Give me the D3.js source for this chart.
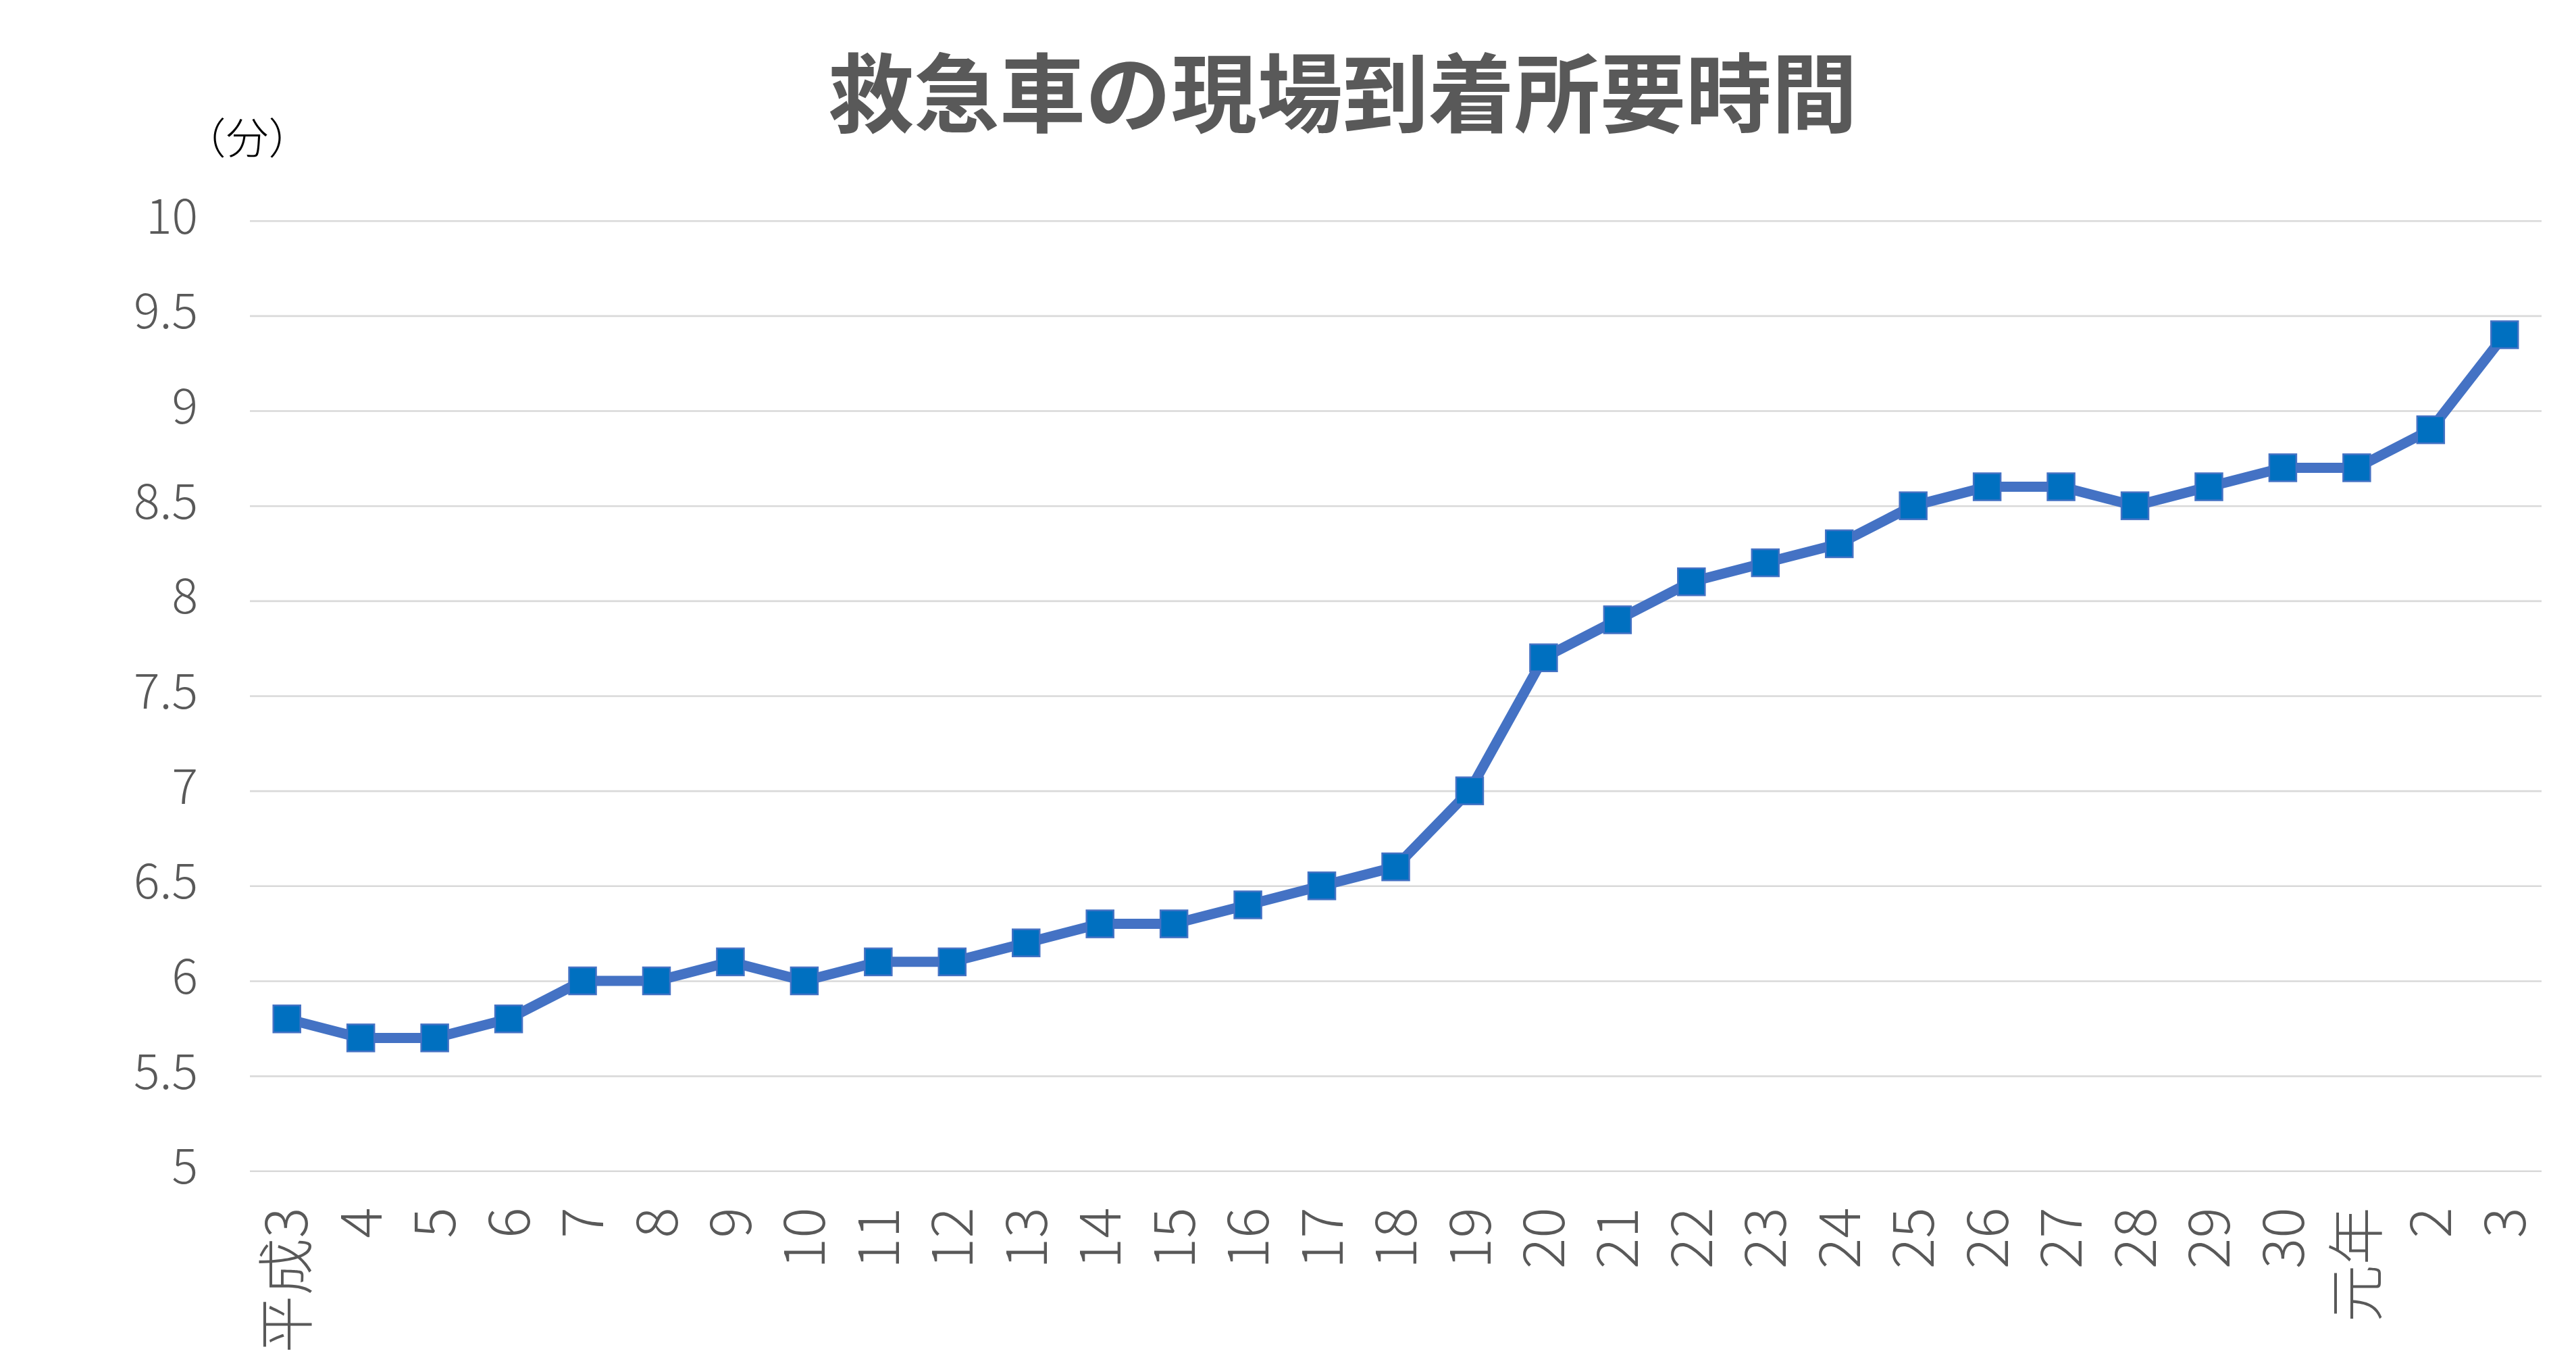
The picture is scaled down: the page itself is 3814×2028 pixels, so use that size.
<!DOCTYPE html>
<html>
<head>
<meta charset="utf-8">
<script src="https://cdn.jsdelivr.net/npm/d3@7"></script>
<style>
  html, body { margin: 0; padding: 0; background: #ffffff; }
  svg { display: block; }
</style>
</head>
<body>
<svg id="chart" width="3814" height="2028"></svg>
<script>
const title = "救急車の現場到着所要時間";
const unitLabel = "（分）";
const categories = ["平成3","4","5","6","7","8","9","10","11","12","13","14","15","16","17","18","19","20","21","22","23","24","25","26","27","28","29","30","元年","2","3"];
const values = [5.8,5.7,5.7,5.8,6.0,6.0,6.1,6.0,6.1,6.1,6.2,6.3,6.3,6.4,6.5,6.6,7.0,7.7,7.9,8.1,8.2,8.3,8.5,8.6,8.6,8.5,8.6,8.7,8.7,8.9,9.4];
const yTicks = [5,5.5,6,6.5,7,7.5,8,8.5,9,9.5,10];

const W = 3814, H = 2028;
const plotLeft = 370, plotRight = 3763, plotTop = 326.7, plotBottom = 1733.3;
const font = "'Noto Sans CJK JP', 'Noto Sans', sans-serif";
const gray = "#595959";

const svg = d3.select("#chart");
svg.append("rect").attr("width", W).attr("height", H).attr("fill", "#fff");

const x = d3.scaleBand().domain(categories).range([plotLeft, plotRight]).padding(0);
const y = d3.scaleLinear().domain([5, 10]).range([plotBottom, plotTop]);
const cx = d => x(d) + x.bandwidth() / 2;

// Y axis with gridlines
const yAxis = d3.axisLeft(y).tickValues(yTicks).tickSize(-(plotRight - plotLeft)).tickPadding(77)
  .tickFormat(d => String(d));
const gy = svg.append("g").attr("transform", `translate(${plotLeft},0)`).call(yAxis);
gy.select(".domain").remove();
gy.selectAll(".tick line").attr("stroke", "#D9D9D9").attr("stroke-width", 2.6);
gy.selectAll(".tick text")
  .attr("fill", gray).attr("font-family", font).attr("font-size", 72).attr("font-weight", 300)
  .attr("dy", null).attr("y", 18.5);

// X axis labels (rotated)
const xAxis = d3.axisBottom(x).tickSize(0).tickPadding(0);
const gx = svg.append("g").attr("transform", `translate(0,${plotBottom})`).call(xAxis);
gx.select(".domain").remove();
gx.selectAll(".tick text")
  .attr("fill", gray).attr("font-family", font).attr("font-size", 85).attr("font-weight", 300)
  .attr("text-anchor", "end")
  .attr("transform", "rotate(-90)")
  .attr("x", -54).attr("y", 0).attr("dy", "0.36em");

// Line
const line = d3.line().x((d, i) => cx(categories[i])).y(d => y(d));
svg.append("path").datum(values)
  .attr("d", line).attr("fill", "none")
  .attr("stroke", "#4472C4").attr("stroke-width", 15)
  .attr("stroke-linejoin", "round");

// Markers
const ms = 40;
svg.append("g").selectAll("rect").data(values).join("rect")
  .attr("x", (d, i) => cx(categories[i]) - ms / 2)
  .attr("y", d => y(d) - ms / 2)
  .attr("width", ms).attr("height", ms)
  .attr("fill", "#0070C0").attr("stroke", "#4472C4").attr("stroke-width", 2.5);

// Title
svg.append("text").text(title)
  .attr("x", 1988).attr("y", 186)
  .attr("text-anchor", "middle")
  .attr("font-family", font).attr("font-weight", 700).attr("font-size", 127)
  .attr("fill", gray);

// Unit label
svg.append("text").text(unitLabel)
  .attr("x", 366).attr("y", 227)
  .attr("text-anchor", "middle")
  .attr("font-family", font).attr("font-size", 63).attr("font-weight", 300)
  .attr("fill", "#000");
</script>
</body>
</html>
